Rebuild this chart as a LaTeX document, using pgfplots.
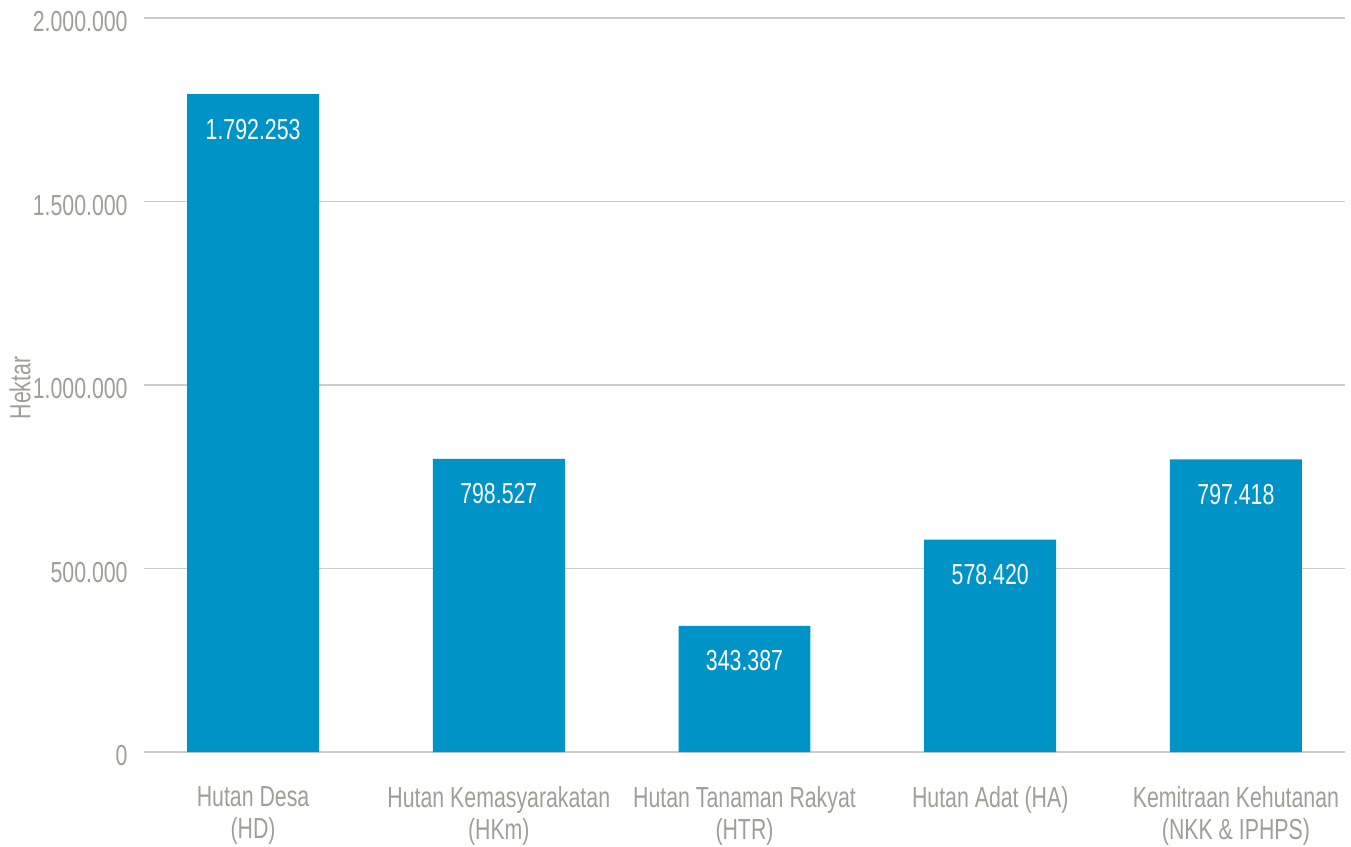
\documentclass[border=0pt]{standalone}
\usepackage{fontspec}
\setmainfont{Liberation Sans}[FakeStretch=0.735]
\usepackage{pgfplots}
\pgfplotsset{compat=1.18}
\definecolor{barblue}{HTML}{0093C8}
\definecolor{txtgray}{HTML}{A09F97}
\definecolor{gridgray}{HTML}{CCCCCC}
\pgfplotsset{/pgf/number format/.cd, fixed, precision=0, 1000 sep={.}, assume math mode=true}
\begin{document}
\fontsize{14.5pt}{16pt}\selectfont
\begin{tikzpicture}
\begin{axis}[
  name=ax,
  scale only axis, width=600.5pt, height=367pt,
  xmin=-0.444, xmax=4.444, ymin=0, ymax=2000000,
  axis line style={draw=none},
  major tick length=0pt,
  ymajorgrids, grid style={gridgray, line width=0.6pt},
  ytick={0,500000,1000000,1500000,2000000},
  scaled y ticks=false,
  yticklabel style={text=txtgray, anchor=east, inner sep=0pt, xshift=-8pt, yshift=-2pt, font=\fontsize{14.5pt}{16pt}\selectfont},
  xtick={0,1,2,3,4},
  xticklabels={{Hutan Desa\\(HD)},{Hutan Kemasyarakatan\\(HKm)},{Hutan Tanaman Rakyat\\(HTR)},{Hutan Adat (HA)},{Kemitraan Kehutanan\\(NKK \& IPHPS)}},
  xticklabel style={text=txtgray, align=center, anchor=north, inner sep=0pt, yshift=-17pt, font=\fontsize{14.5pt}{16pt}\selectfont},
  ylabel={Hektar},
  ylabel style={text=txtgray, at={(rel axis cs:0,0.496)}, anchor=center, yshift=62pt, font=\fontsize{14.5pt}{16pt}\selectfont},
  ybar, bar width=0.537,
  nodes near coords,
  every node near coord/.append style={text=white, anchor=center, yshift=-17.5pt, font=\fontsize{14.5pt}{16pt}\selectfont},
]
\addplot[fill=barblue, draw=none] coordinates {(0,1792253) (1,798527) (2,343387) (3,578420) (4,797418)};
\end{axis}
\pgfresetboundingbox
\path[use as bounding box] ([shift={(-72pt,-47pt)}]ax.south west) rectangle ([shift={(3pt,9pt)}]ax.north east);
\end{tikzpicture}
\end{document}
